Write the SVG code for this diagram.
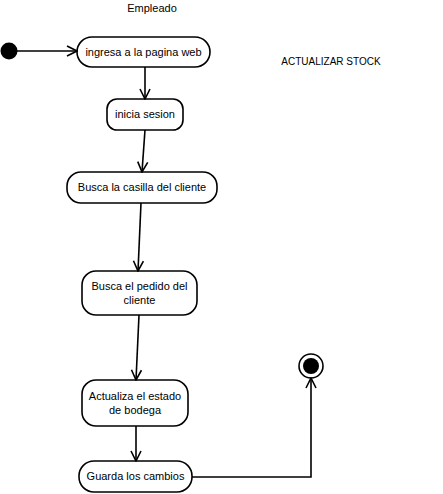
<svg xmlns="http://www.w3.org/2000/svg" width="443" height="494" viewBox="0 0 443 494">
<style>
.n{fill:#fff;stroke:#000;stroke-width:1.6}
.t{font-family:"Liberation Sans",Arial,sans-serif;font-size:11px;fill:#000;text-anchor:middle}
.c{fill:none;stroke:#000;stroke-width:1.6}
</style>
<defs>
<marker id="a" viewBox="0 0 12 12" refX="11" refY="6" markerWidth="12" markerHeight="12" markerUnits="userSpaceOnUse" orient="auto">
<path d="M1,1 L11,6 L1,11" fill="none" stroke="#000" stroke-width="1.6"/>
</marker>
</defs>
<rect width="443" height="494" fill="#fff"/>
<text class="t" x="152" y="12">Empleado</text>
<text class="t" x="331" y="65" style="font-size:10px">ACTUALIZAR STOCK</text>
<g id="start"><circle cx="9" cy="51" r="8.5" fill="#000"/></g>
<g id="n1"><rect class="n" x="77" y="37" width="133" height="30" rx="15"/><text class="t" x="143.5" y="56">ingresa a la pagina web</text></g>
<g id="n2"><rect class="n" x="107" y="99" width="76" height="31" rx="10"/><text class="t" x="145" y="118">inicia sesion</text></g>
<g id="n3"><rect class="n" x="67" y="172" width="150" height="31" rx="14"/><text class="t" x="142" y="191">Busca la casilla del cliente</text></g>
<g id="n4"><rect class="n" x="82" y="271" width="115" height="44" rx="14"/><text class="t" x="139.5" y="290">Busca el pedido del</text><text class="t" x="139.5" y="304">cliente</text></g>
<g id="n5"><rect class="n" x="82" y="380" width="106" height="46" rx="14"/><text class="t" x="135" y="400">Actualiza el estado</text><text class="t" x="135" y="414">de bodega</text></g>
<g id="n6"><rect class="n" x="79" y="461" width="113" height="31" rx="15"/><text class="t" x="135.5" y="480">Guarda los cambios</text></g>
<g id="end"><circle cx="311" cy="366" r="12" fill="#fff" stroke="#000" stroke-width="1.6"/><circle cx="311" cy="366" r="8" fill="#000"/></g>
<g id="connectors">
<path class="c" d="M17,51 L77,51" marker-end="url(#a)"/>
<path class="c" d="M145,67 L145,99" marker-end="url(#a)"/>
<path class="c" d="M145,130 L142,172" marker-end="url(#a)"/>
<path class="c" d="M141,203 L138,271" marker-end="url(#a)"/>
<path class="c" d="M139,315 L136,380" marker-end="url(#a)"/>
<path class="c" d="M136,426 L136,461" marker-end="url(#a)"/>
<path class="c" d="M192,477 L311,477 L311,378" marker-end="url(#a)"/>
</g>
</svg>
